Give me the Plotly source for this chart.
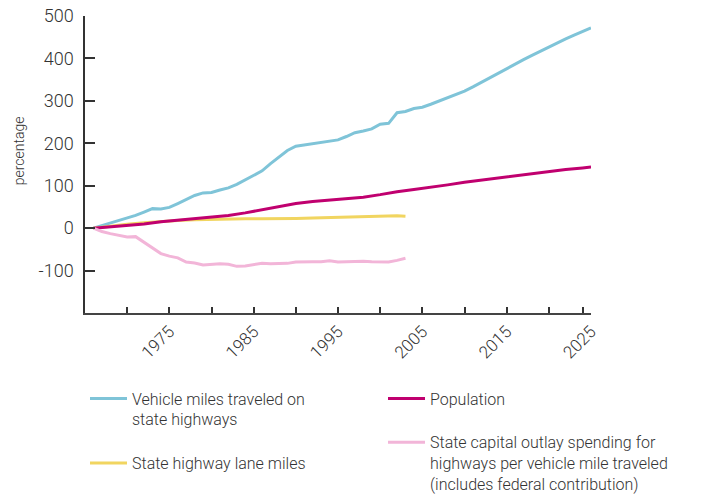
import plotly.graph_objects as go

# ---------------- data ----------------
vmt_years = list(range(1966, 2026))
vmt_values = [0, 6, 13, 18, 24, 30, 38, 46, 45, 49,
              58, 67, 77, 83, 84, 90, 95, 103, 114, 124,
              135, 152, 168, 183, 193, 196, 199, 202, 204, 208,
              216, 225, 229, 234, 245, 247, 272, 275, 282, 285,
              292, 300, 308, 316, 323, 333, 344, 355, 366, 376,
              387, 397, 407, 417, 427, 436, 446, 455, 464, 472]

pop_years = [1966, 1968, 1970, 1972, 1974, 1976, 1978, 1980, 1982, 1984,
             1986, 1988, 1990, 1992, 1994, 1996, 1998, 2000, 2002, 2004,
             2006, 2008, 2010, 2012, 2014, 2016, 2018, 2020, 2022, 2024, 2025]
pop_values = [0, 3, 6, 10, 15, 19, 23, 27, 30, 36,
              43, 51, 58, 63, 66, 69, 73, 79, 86, 91,
              96, 102, 108, 113, 118, 124, 129, 134, 138, 142, 144]

lane_years = [1966, 1968, 1970, 1972, 1974, 1976, 1978, 1980, 1982, 1984,
              1986, 1988, 1990, 1992, 1994, 1996, 1998, 2000, 2001, 2002, 2003]
lane_values = [0, 5, 9, 13, 16, 18, 20, 21, 22, 22,
               22, 22, 23, 24, 25, 26, 27, 27, 29, 29, 28]

cap_years = list(range(1966, 2004))
cap_values = [0, -8, -13, -17, -21, -20, -34, -48, -60, -66,
              -70, -80, -82, -87, -85, -84, -85, -90, -89, -86,
              -83, -84, -83, -83, -80, -79, -79, -79, -77, -80,
              -79, -78, -78, -79, -79, -80, -76, -71]

tick_marks = [1970, 1975, 1980, 1985, 1990, 1995, 2000, 2005, 2010, 2015, 2020, 2024]
tick_labels = [1975, 1985, 1995, 2005, 2015, 2025]
y_ticks = [-100, 0, 100, 200, 300, 400, 500]
y_tick_text = ["-100", "0", "100", "200", "300", "400", "500"]

names = {
    "vmt": "Vehicle miles traveled on<br>state highways",
    "pop": "Population",
    "lane": "State highway lane miles",
    "cap": "State capital outlay spending for<br>highways per vehicle mile traveled<br>(includes federal contribution)",
}
colors = {"vmt": "#7fc4d8", "pop": "#c0006f", "lane": "#f1d560", "cap": "#f2b5d8"}

W, H = 714, 497
FONT = "Roboto"
TXT = "#333333"

fig = go.Figure()
fig.add_trace(go.Scatter(x=vmt_years, y=vmt_values, mode="lines", name=names["vmt"],
                         line=dict(color=colors["vmt"], width=3), legend="legend",
                         legendgroup="a"))
fig.add_trace(go.Scatter(x=lane_years, y=lane_values, mode="lines", name=names["lane"],
                         line=dict(color=colors["lane"], width=3), legend="legend",
                         legendgroup="b"))
fig.add_trace(go.Scatter(x=pop_years, y=pop_values, mode="lines", name=names["pop"],
                         line=dict(color=colors["pop"], width=3), legend="legend2",
                         legendgroup="c"))
fig.add_trace(go.Scatter(x=cap_years, y=cap_values, mode="lines", name=names["cap"],
                         line=dict(color=colors["cap"], width=3), legend="legend2",
                         legendgroup="d"))

L, T = 85, 15.7
PW, PH = 505.7, 297
R, B = W - L - PW, H - T - PH
legend_common = dict(
    xref="container", yref="container", xanchor="left", yanchor="top",
    orientation="v", valign="top", bgcolor="rgba(0,0,0,0)", borderwidth=0,
    font=dict(family=FONT, size=16, color=TXT, weight=300), itemwidth=37,
    tracegroupgap=20, traceorder="grouped",
)
fig.update_layout(
    width=W, height=H,
    margin=dict(l=L, r=R, t=T, b=B, autoexpand=False),
    paper_bgcolor="white", plot_bgcolor="white",
    font=dict(family=FONT, color=TXT, weight=300),
    showlegend=True,
    legend=dict(x=85 / W, y=1 - 381.5 / H, **legend_common),
    legend2=dict(x=383 / W, y=1 - 381.5 / H, **legend_common),
    xaxis=dict(range=[1965, 2025], tickmode="array", tickvals=tick_labels,
               ticks="", tickangle=-45, ticklabeloverflow="allow",
               tickfont=dict(family=FONT, size=17, color=TXT, weight=300),
               minor=dict(tickmode="array", tickvals=tick_marks, ticks="inside",
                          ticklen=6, tickwidth=1.5, tickcolor="#333333", showgrid=False),
               showline=True, linecolor="#444444", linewidth=2,
               showgrid=False, zeroline=False),
    yaxis=dict(range=[-200, 500], tickmode="array", tickvals=y_ticks, ticktext=y_tick_text,
               ticks="inside", ticklen=10, tickwidth=1.5, tickcolor="#333333",
               showline=True, linecolor="#333333", linewidth=1.5,
               showgrid=False, zeroline=False, ticklabelstandoff=6,
               ticklabeloverflow="allow",
               tickfont=dict(family=FONT, size=18, color=TXT, weight=300)),
    annotations=[dict(text="percentage", xref="paper", yref="paper",
                      x=(19 - L) / PW, y=(T + PH - 150) / PH,
                      xanchor="center", yanchor="middle", textangle=-90, showarrow=False,
                      font=dict(family=FONT, size=14, color=TXT, weight=300))],
)

fig.write_html("out.html", config={"displayModeBar": False},
               post_script="document.body.style.margin='0';")
